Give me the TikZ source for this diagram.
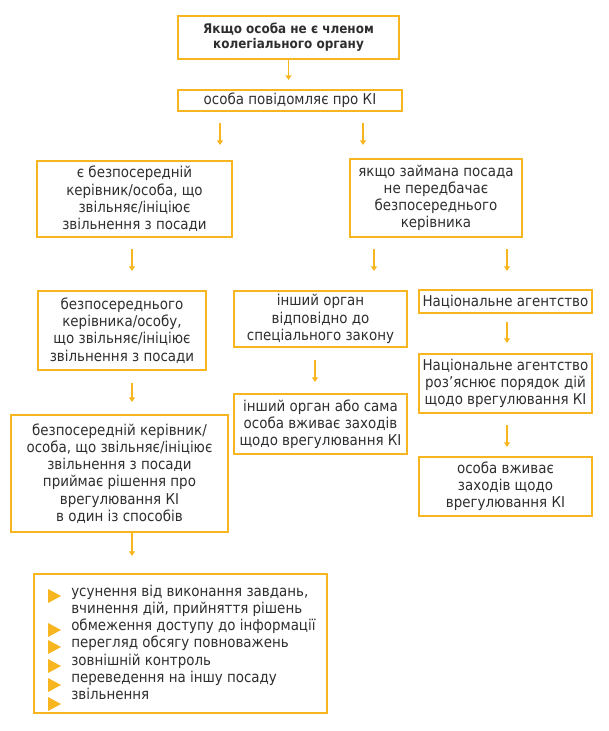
\documentclass[tikz,border=0pt]{standalone}
\usepackage{fontspec}
\setmainfont{DejaVu Sans Condensed}
\usepackage{tikz}
\usetikzlibrary{arrows.meta}
\definecolor{frame}{HTML}{F7B520}
\definecolor{ink}{HTML}{2E2E2E}
\tikzset{
  box/.style={draw=frame, line width=1.8pt, rectangle, inner sep=0pt, align=center, text=ink,
    font=\fontsize{11.2}{12.9}\selectfont},
  headbox/.style={box, font=\bfseries\fontsize{10}{11.3}\selectfont},
  arr/.style={draw=frame, line width=0.8pt, -{Triangle[width=4.5pt,length=3.5pt]}},
  item/.style={text=ink, inner sep=0pt, anchor=base west, font=\fontsize{11.2}{12.9}\selectfont},
  bullet/.style={fill=frame},
}

\begin{document}
\begin{tikzpicture}[x=0.75pt,y=-0.75pt]
  \useasboundingbox (0,0) rectangle (609,731);

  \node[headbox, minimum width=165.5pt, minimum height=32pt] (head) at (288.5,37.5)
    {Якщо особа не є членом\\колегіального органу};
  \node[box, minimum width=167.7pt, minimum height=15.5pt] (report) at (290,100.5)
    {особа повідомляє про КІ};

  % left branch
  \node[box, minimum width=146pt, minimum height=56.7pt] (chief) at (134.5,199)
    {є безпосередній\\керівник/особа, що\\звільняє/ініціює\\звільнення з посади};
  \node[box, minimum width=125.7pt, minimum height=59pt] (tochief) at (122,330.5)
    {безпосереднього\\керівника/особу,\\що звільняє/ініціює\\звільнення з посади};
  \node[box, minimum width=162.5pt, minimum height=87.5pt] (decide) at (119.5,473.5)
    {безпосередній керівник/\\особа, що звільняє/ініціює\\звільнення з посади\\приймає рішення про\\врегулювання КІ\\в один із способів};
  \node[box, minimum width=219.5pt, minimum height=104pt] (ways) at (180.5,643.5) {};

  % right branch
  \node[box, minimum width=128.7pt, minimum height=58.2pt] (nochief) at (436,198)
    {якщо займана посада\\не передбачає\\безпосереднього\\керівника};
  \node[box, minimum width=129.5pt, minimum height=41.7pt] (other) at (320.5,319)
    {інший орган\\відповідно до\\спеціального закону};
  \node[box, minimum width=129.5pt, minimum height=44.7pt] (othermeas) at (320.5,424)
    {інший орган або сама\\особа вживає заходів\\щодо врегулювання КІ};
  \node[box, minimum width=129.5pt, minimum height=17pt] (nazk) at (505.5,301.5)
    {Національне агентство};
  \node[box, minimum width=129.5pt, minimum height=44pt] (explain) at (505.5,383.5)
    {Національне агентство\\роз’яснює порядок дій\\щодо врегулювання КІ};
  \node[box, minimum width=129.5pt, minimum height=44pt] (measures) at (505.5,486.5)
    {особа вживає\\заходів щодо\\врегулювання КІ};

  % list of ways
  \foreach \t [count=\i] in {{усунення від виконання завдань,},{вчинення дій, прийняття рішень},
      обмеження доступу до інформації,перегляд обсягу повноважень,зовнішній контроль,
      переведення на іншу посаду,звільнення}
    \node[item] (way\i) at (71,{596+17.3*(\i-1)}) {\t};
  \foreach \y in {596,630,647,666,685,704}
    \fill[bullet] (48,\y-7) -- (61,\y) -- (48,\y+7) -- cycle;

  % arrows
  \coordinate (xa) at (220,0);
  \coordinate (xb) at (363,0);
  \coordinate (xc) at (132,0);
  \coordinate (xd) at (374,0);
  \coordinate (xe) at (507,0);
  \coordinate (xf) at (315,0);
  \draw[arr, shorten >=6.75pt] (head.south) -- (head.south |- report.north);
  \draw[arr, shorten <=8.25pt, shorten >=11.25pt] (report.south -| xa) -- (chief.north -| xa);
  \draw[arr, shorten <=8.25pt, shorten >=9.75pt] (report.south -| xb) -- (nochief.north -| xb);
  \draw[arr, shorten <=8.25pt, shorten >=14.25pt] (chief.south -| xc) -- (tochief.north -| xc);
  \draw[arr, shorten <=8.25pt, shorten >=14.25pt] (nochief.south -| xd) -- (other.north -| xd);
  \draw[arr, shorten <=8.25pt, shorten >=13.5pt] (nochief.south -| xe) -- (nazk.north -| xe);
  \draw[arr, shorten <=9pt, shorten >=9pt] (tochief.south -| xc) -- (decide.north -| xc);
  \draw[arr, shorten <=9pt, shorten >=8.25pt] (other.south -| xf) -- (othermeas.north -| xf);
  \draw[arr, shorten <=6pt, shorten >=7.5pt] (nazk.south -| xe) -- (explain.north -| xe);
  \draw[arr, shorten <=8.25pt, shorten >=6.75pt] (explain.south -| xe) -- (measures.north -| xe);
  \draw[arr, shorten >=12.75pt] (decide.south -| xc) -- (ways.north -| xc);
\end{tikzpicture}
\end{document}
